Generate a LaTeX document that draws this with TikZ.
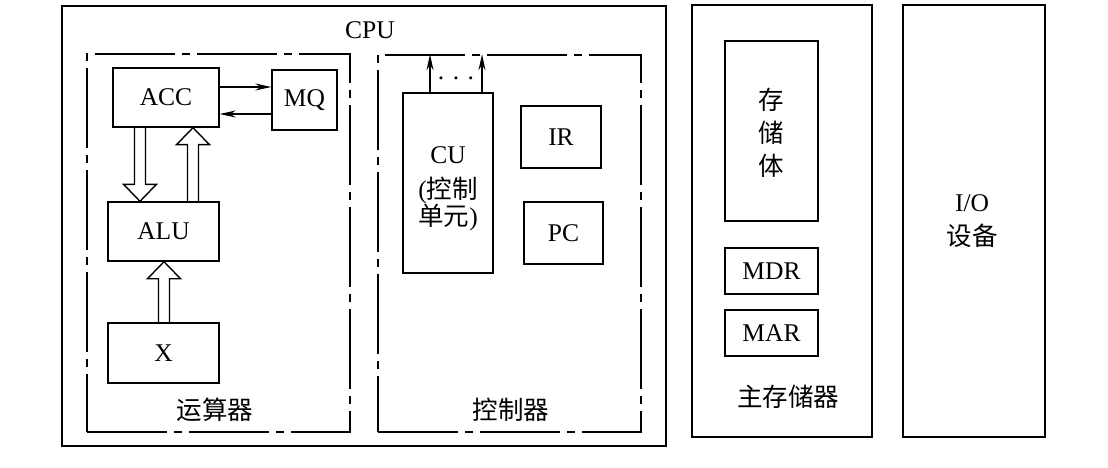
\documentclass[tikz,border=0pt]{standalone}
\usepackage{fontspec}
\setmainfont{Liberation Serif}
\newfontfamily\cjk{Noto Sans CJK SC}
\usetikzlibrary{arrows.meta,calc}
\tikzset{
  box/.style={draw,line width=1.4pt,inner sep=0pt},
  dashdot/.style={draw,line width=1.4pt,inner sep=0pt,dash pattern=on 80pt off 7pt on 8pt off 7pt},
  lbl/.style={inner sep=0pt},
  hollow/.style={draw,line width=1.4pt,line join=miter},
  thin/.style={line width=1.4pt,-{Stealth[length=16pt,width=7pt]}}
}
\newcommand{\hollowarrow}[4]{%
  \draw[hollow] let \p1=(#2), \p2=(#3) in
  ({(#1-5.5)*1pt},\y1) -- ({(#1-5.5)*1pt},{\y2+#4*17pt}) -- ({(#1-16.5)*1pt},{\y2+#4*17pt})
  -- ({#1*1pt},\y2) -- ({(#1+16.5)*1pt},{\y2+#4*17pt}) -- ({(#1+5.5)*1pt},{\y2+#4*17pt})
  -- ({(#1+5.5)*1pt},\y1);}
\begin{document}
\begin{tikzpicture}[x=1pt,y=-1pt,font=\fontsize{25.5}{29}\selectfont]
\useasboundingbox (0,0) rectangle (1108,468);
% outer boxes
\node[box,minimum width=604pt,minimum height=440pt] (cpu) at (364,226) {};
\node[lbl] (cputext) at (370,30) {CPU};
\node[box,minimum width=180pt,minimum height=432pt] (mem) at (782,221) {};
\node[box,minimum width=142pt,minimum height=432pt] (io) at (974,221) {};
\node[lbl,align=center] (iotext) at (972,221) {I/O\\[5pt]{\cjk 设备}};
% arithmetic unit
\node[dashdot,minimum width=263pt,minimum height=378pt] (arith) at (218.5,243) {};
\node[box,minimum width=106pt,minimum height=59pt] (acc) at (166,97.5) {ACC};
\node[box,minimum width=65pt,minimum height=60pt] (mq) at (304.5,100) {MQ};
\node[box,minimum width=111pt,minimum height=59pt] (alu) at (163.5,231.5) {ALU};
\node[box,minimum width=111pt,minimum height=60pt] (x) at (163.5,353) {X};
\node[lbl] (arithtext) at (215,410) {\cjk 运算器};
\draw[thin] ([yshift=10.5pt]acc.east) -- ([yshift=10.5pt]acc.east -| mq.west);
\draw[thin] ([yshift=-16.5pt]acc.east -| mq.west) -- ([yshift=-16.5pt]acc.east);
\hollowarrow{140}{acc.south}{alu.north}{1}
\hollowarrow{193}{alu.north}{acc.south}{(-1)}
\hollowarrow{164}{x.north}{alu.south}{(-1)}
% control unit
\node[dashdot,minimum width=263pt,minimum height=377pt] (ctrl) at (509.5,243.5) {};
\node[box,minimum width=90pt,minimum height=180pt] (cu) at (448,183) {};
\node[lbl,align=center,font=\fontsize{25.5}{27}\selectfont] (cutext) at (448,189) {CU\\[8pt]({\cjk 控制}\\{\cjk 单元})};
\node[box,minimum width=80pt,minimum height=62pt] (ir) at (561,137) {IR};
\node[box,minimum width=79pt,minimum height=62pt] (pc) at (563.5,233) {PC};
\node[lbl] (ctrltext) at (511,410) {\cjk 控制器};
\draw[thin] ([xshift=-18pt]cu.north) -- ([xshift=-18pt]cu.north |- ctrl.north);
\draw[thin] ([xshift=34pt]cu.north) -- ([xshift=34pt]cu.north |- ctrl.north);
\node[lbl,anchor=base] (dots) at (456,80) {. . .};
% memory
\node[box,minimum width=93pt,minimum height=180pt] (store) at (771.5,131) {};
\node[lbl,align=center,font=\cjk\fontsize{25.5}{33}\selectfont] (storetext) at (771,133) {存\\储\\体};
\node[box,minimum width=93pt,minimum height=46pt] (mdr) at (771.5,271) {MDR};
\node[box,minimum width=93pt,minimum height=46pt] (mar) at (771.5,333) {MAR};
\node[lbl] (memtext) at (788,397) {\cjk 主存储器};
\end{tikzpicture}
\end{document}
